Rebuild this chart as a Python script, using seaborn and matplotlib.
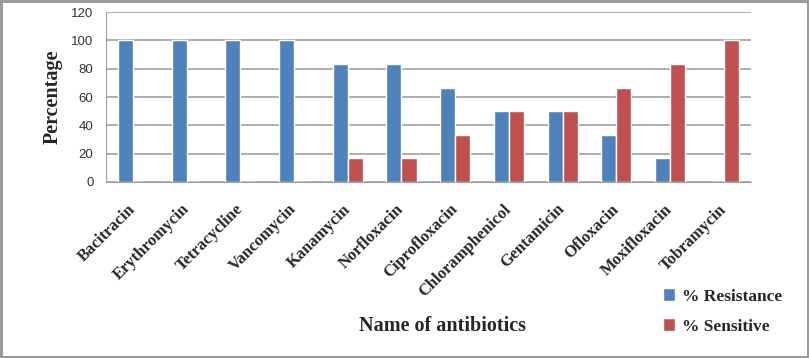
import pandas as pd
import seaborn as sns
import matplotlib.pyplot as plt

antibiotics = ['Bacitracin', 'Erythromycin', 'Tetracycline', 'Vancomycin', 'Kanamycin',
               'Norfloxacin', 'Ciprofloxacin', 'Chloramphenicol', 'Gentamicin', 'Ofloxacin',
               'Moxifloxacin', 'Tobramycin']
resistance = [100, 100, 100, 100, 83.3, 83.3, 66.7, 50, 50, 33.3, 16.7, 0]
sensitive = [0, 0, 0, 0, 16.7, 16.7, 33.3, 50, 50, 66.7, 83.3, 100]


def main():
    df = pd.DataFrame({'Antibiotic': antibiotics * 2,
                       'Percentage': resistance + sensitive,
                       'Series': ['% Resistance'] * 12 + ['% Sensitive'] * 12})

    sns.set_style('white')
    fig = plt.figure(figsize=(8.09, 3.58), dpi=100, edgecolor='#9a9a9a', linewidth=2.5)
    ax = fig.add_axes([0.131, 0.492, 0.797, 0.474])

    sns.barplot(data=df, x='Antibiotic', y='Percentage', hue='Series',
                palette=['#4F81BD', '#C0504D'], width=0.56, saturation=1,
                ax=ax)

    ax.set_ylim(0, 120)
    ax.set_yticks(range(0, 121, 20))
    ax.yaxis.grid(True, color='#a0a0a0', linewidth=1.2)
    ax.set_axisbelow(True)
    for s in ['top', 'right']:
        ax.spines[s].set_visible(False)
    ax.spines['left'].set_color('#a0a0a0')
    ax.spines['bottom'].set_color('#a0a0a0')
    ax.tick_params(axis='y', length=4, color='#a0a0a0', labelsize=9.5,
                   labelcolor='#333333', pad=5)
    ax.tick_params(axis='x', length=0, pad=18)

    serif = ['Liberation Serif', 'DejaVu Serif']
    ax.set_xticks(range(len(antibiotics)))
    ax.set_xticklabels(antibiotics, rotation=45, ha='right', va='center',
                       rotation_mode='anchor', fontsize=12, fontweight='bold',
                       family=serif)
    for lab in ax.get_yticklabels():
        lab.set_family(['Liberation Sans', 'DejaVu Sans'])

    ax.set_ylabel('Percentage', fontsize=14.5, fontweight='bold', family=serif, labelpad=6)
    ax.set_xlabel('')
    fig.text(0.547, 0.09, 'Name of antibiotics', ha='center', va='center',
             fontsize=14.5, fontweight='bold', family=serif)

    handles, labels = ax.get_legend_handles_labels()
    ax.legend_.remove()
    fig.legend(handles, labels, loc='center left', bbox_to_anchor=(0.8, 0.13),
               frameon=False, handlelength=0.7, handleheight=0.7, handletextpad=0.4,
               labelspacing=0.8, prop={'family': serif, 'weight': 'bold', 'size': 12.5})

    fig.savefig('out.png', dpi=100, edgecolor=fig.get_edgecolor())


if __name__ == "__main__":
    main()
